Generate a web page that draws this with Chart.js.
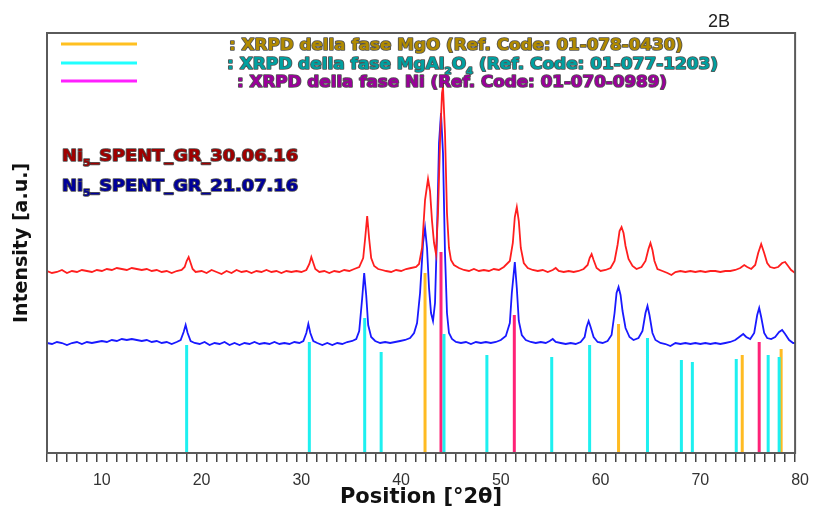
<!DOCTYPE html>
<html>
<head>
<meta charset="utf-8">
<script src="https://cdn.jsdelivr.net/npm/chart.js@4.4.0/dist/chart.umd.min.js"></script>
<style>
html, body { margin: 0; padding: 0; background: #fff; }
#wrap { width: 813px; height: 516px; }
</style>
</head>
<body>
<div id="wrap"><canvas id="xrd"></canvas></div>
<script>
// x tick labels
const xTickLabels = [10, 20, 30, 40, 50, 60, 70, 80];

// Ni5_SPENT_GR_30.06.16 (red)
const redX = [5.0,5.5,6.0,6.5,7.0,7.5,8.0,8.5,9.0,9.5,10.0,10.5,11.0,11.5,12.0,12.5,13.0,13.5,14.0,14.5,15.0,15.5,16.0,16.5,17.0,17.5,18.0,18.5,18.8,19.0,19.2,19.4,19.6,19.9,
  20.5,21.0,21.5,22.0,22.5,23.0,23.5,24.0,24.5,25.0,25.5,26.0,26.5,27.0,27.5,28.0,28.5,29.0,29.5,30.0,30.5,31.0,31.3,31.5,31.7,31.9,32.3,32.8,33.3,33.8,34.3,34.8,35.3,35.8,36.3,36.7,36.9,37.1,37.3,37.5,37.8,38.2,38.6,39.0,39.5,
  40.0,40.5,41.0,41.5,42.0,42.3,42.6,42.9,43.2,43.4,43.6,43.8,44.0,44.2,44.4,44.6,44.7,44.9,45.1,45.3,45.5,45.8,46.3,46.8,47.3,47.8,48.3,48.8,49.3,49.8,
  50.3,50.8,51.4,51.7,51.9,52.1,52.3,52.5,52.8,53.2,53.7,54.2,54.7,55.2,55.7,56.0,56.3,56.8,57.3,57.8,58.3,58.8,59.2,59.4,59.6,59.8,60.1,60.5,
  61.0,61.5,61.9,62.2,62.4,62.6,62.8,63.0,63.3,63.7,64.1,64.6,65.0,65.3,65.5,65.7,65.9,66.2,66.7,67.2,67.6,68.0,68.5,69.0,69.5,
  70.0,70.5,71.0,71.5,72.0,72.5,73.0,73.5,74.0,74.5,74.9,75.2,75.6,76.0,76.3,76.6,76.9,77.2,77.5,77.9,78.3,78.7,79.0,79.3,79.6,80.0];
const redY = [182,180,181,183,180,182,181,183,182,181,183,182,184,183,185,184,183,185,184,183,184,182,183,181,182,180,182,183,186,192,196,190,184,181,
  182,180,183,181,179,182,180,183,181,182,180,182,181,183,181,182,180,182,181,182,181,183,189,196,190,184,181,182,180,182,181,183,182,184,186,195,215,237,214,195,187,184,183,182,181,
  183,182,184,185,186,189,205,253,274,262,232,210,199,240,310,360,366,320,240,205,193,188,185,183,182,184,182,183,182,184,
  183,186,192,210,236,246,232,205,190,185,183,182,183,181,183,185,182,181,182,181,182,184,188,195,199,193,185,182,
  183,185,192,208,222,226,220,207,194,187,184,186,192,204,210,203,192,184,182,180,178,181,182,181,182,
  181,182,181,182,182,181,182,182,183,185,188,186,184,188,200,209,200,190,186,185,186,190,191,187,183,180];

// Ni5_SPENT_GR_21.07.16 (blue)
const blueX = [5.0,5.5,6.0,6.5,7.0,7.5,8.0,8.5,9.0,9.5,10.0,10.5,11.0,11.5,12.0,12.5,13.0,13.5,14.0,14.5,15.0,15.5,16.0,16.5,17.0,17.5,18.0,18.4,18.7,18.9,19.1,19.4,19.8,
  20.3,20.8,21.3,21.8,22.3,22.8,23.3,23.8,24.3,24.8,25.3,25.8,26.3,26.8,27.3,27.8,28.3,28.8,29.3,29.8,30.3,30.7,31.0,31.2,31.4,31.7,32.1,32.6,33.1,33.6,34.1,34.6,35.1,35.6,36.0,36.3,36.6,36.8,37.0,37.2,37.5,37.9,38.4,38.9,39.4,39.9,
  40.4,40.9,41.4,41.8,42.1,42.4,42.7,42.9,43.1,43.3,43.5,43.7,43.9,44.1,44.3,44.5,44.7,44.9,45.1,45.3,45.6,46.0,46.5,47.0,47.5,48.0,48.5,49.0,49.5,
  50.0,50.5,51.0,51.4,51.6,51.9,52.1,52.3,52.6,53.0,53.5,54.0,54.5,55.0,55.4,55.7,56.0,56.5,57.0,57.5,58.0,58.5,58.9,59.1,59.3,59.5,59.8,
  60.2,60.7,61.2,61.6,61.9,62.1,62.3,62.5,62.7,63.0,63.4,63.8,64.3,64.7,65.0,65.2,65.4,65.7,66.0,66.5,67.0,67.5,68.0,68.5,69.0,69.5,
  70.0,70.5,71.0,71.5,72.0,72.5,73.0,73.5,74.0,74.4,74.8,75.1,75.5,75.9,76.2,76.4,76.6,76.9,77.2,77.6,78.0,78.4,78.7,79.0,79.4,79.8,80.0];
const blueY = [110,109,111,110,108,110,111,109,111,110,111,112,111,113,112,114,113,114,113,112,113,111,112,110,111,109,111,113,121,128,120,112,110,
  109,111,108,110,109,111,108,110,108,110,109,111,109,110,109,111,109,110,109,111,110,112,120,129,120,112,110,108,110,108,110,109,111,112,114,122,155,180,158,128,116,112,110,111,110,111,
  112,113,115,120,130,160,210,225,205,165,140,132,150,220,310,340,300,200,140,120,114,111,110,111,109,111,110,111,110,
  111,113,117,130,160,191,165,132,118,113,111,110,111,110,112,114,111,110,109,110,109,111,116,126,132,126,116,
  111,110,112,118,140,160,166,158,142,125,116,113,115,122,140,147,138,120,113,110,109,107,110,109,110,109,
  110,109,110,109,110,109,110,111,113,116,119,116,114,120,138,145,136,120,115,114,116,121,123,119,113,110,110];

// reference patterns (position, relative height)
const mgoPos = [42.9, 62.3, 74.7, 78.6];
const mgoH = [180, 129, 98, 104];
const spinelPos = [19.0, 31.3, 36.85, 38.5, 44.8, 49.1, 55.6, 59.4, 65.2, 68.6, 69.7, 74.1, 77.3, 78.4];
const spinelH = [108, 111, 135, 101, 119, 98, 96, 108, 115, 93, 91, 94, 98, 96];
const niPos = [44.5, 51.85, 76.4];
const niH = [201, 138, 111];

const FONT = '"DejaVu Sans", "Liberation Sans", Arial, sans-serif';

function pts(xs, ys) {
  return xs.map((x, i) => ({ x: x, y: ys[i] }));
}
function sticks(pos, h) {
  const out = [];
  pos.forEach((p, i) => {
    out.push({ x: p, y: 0 }, { x: p, y: h[i] }, { x: p, y: null });
  });
  return out;
}

// text runs [text, isSubscript], stretched to a target width
function drawRuns(ctx, runs, x, y, color, size, width) {
  const fontFor = sub => 'bold ' + (sub ? Math.round(size * 0.62) : size) + 'px ' + FONT;
  let total = 0;
  runs.forEach(r => { ctx.font = fontFor(r[1]); total += ctx.measureText(r[0]).width; });
  ctx.save();
  ctx.translate(x, y);
  ctx.scale(width / total, 1);
  let cx = 0;
  runs.forEach(r => {
    ctx.font = fontFor(r[1]);
    const yy = r[1] ? size * 0.3 : 0;
    ctx.lineWidth = 1.6;
    ctx.lineJoin = 'round';
    ctx.strokeStyle = 'rgba(40,40,40,0.8)';
    ctx.strokeText(r[0], cx, yy);
    ctx.fillStyle = color;
    ctx.fillText(r[0], cx, yy);
    cx += ctx.measureText(r[0]).width;
  });
  ctx.restore();
}

const extras = {
  id: 'extras',
  afterDraw(chart) {
    const ctx = chart.ctx;
    const a = chart.chartArea;
    ctx.save();
    // frame
    ctx.strokeStyle = '#5a5a5a';
    ctx.lineWidth = 2;
    ctx.strokeRect(a.left, a.top, a.right - a.left, a.bottom - a.top);
    // 2B
    ctx.fillStyle = '#222';
    ctx.font = '18px "Liberation Sans", Arial, sans-serif';
    ctx.textBaseline = 'alphabetic';
    ctx.fillText('2B', 708, 27);
    // legend samples
    const samples = [['#ffc020', 44], ['#20ffff', 63], ['#ff20ff', 81]];
    ctx.lineWidth = 3;
    samples.forEach(s => {
      ctx.strokeStyle = s[0];
      ctx.beginPath();
      ctx.moveTo(61, s[1]);
      ctx.lineTo(137, s[1]);
      ctx.stroke();
    });
    drawRuns(ctx, [[': XRPD della fase MgO (Ref. Code: 01-078-0430)', false]], 229, 50, '#b08a00', 15, 454);
    drawRuns(ctx, [[': XRPD della fase MgAl', false], ['2', true], ['O', false], ['4', true], [' (Ref. Code: 01-077-1203)', false]], 227, 69, '#00a0a0', 15, 491);
    drawRuns(ctx, [[': XRPD della fase Ni (Ref. Code: 01-070-0989)', false]], 237, 87, '#9a009a', 15, 430);
    drawRuns(ctx, [['Ni', false], ['5', true], ['_SPENT_GR_30.06.16', false]], 62, 161, '#a00000', 15, 236);
    drawRuns(ctx, [['Ni', false], ['5', true], ['_SPENT_GR_21.07.16', false]], 62, 191, '#00009a', 15, 236);
    ctx.restore();
  }
};

new Chart(document.getElementById('xrd'), {
  type: 'line',
  data: {
    datasets: [
      { label: 'MgAl2O4', data: sticks(spinelPos, spinelH), borderColor: '#1ef0f0', borderWidth: 3, pointRadius: 0, spanGaps: false, borderCapStyle: 'butt', order: 0 },
      { label: 'MgO', data: sticks(mgoPos, mgoH), borderColor: '#ffbb22', borderWidth: 3, pointRadius: 0, spanGaps: false, borderCapStyle: 'butt', order: 0 },
      { label: 'Ni', data: sticks(niPos, niH), borderColor: '#ff2277', borderWidth: 3, pointRadius: 0, spanGaps: false, borderCapStyle: 'butt', order: 0 },
      { label: 'Ni5_SPENT_GR_30.06.16', data: pts(redX, redY), borderColor: 'rgb(255,30,30)', borderWidth: 1.8, pointRadius: 0, tension: 0, order: 1 },
      { label: 'Ni5_SPENT_GR_21.07.16', data: pts(blueX, blueY), borderColor: 'rgb(25,25,255)', borderWidth: 1.8, pointRadius: 0, tension: 0, order: 2 }
    ]
  },
  options: {
    responsive: true,
    maintainAspectRatio: false,
    animation: false,
    devicePixelRatio: 1,
    layout: { padding: { top: 33, right: 16, bottom: 0, left: 0 } },
    plugins: {
      legend: { display: false },
      tooltip: { enabled: false }
    },
    scales: {
      x: {
        type: 'linear',
        min: 5,
        max: 80,
        afterFit: s => { s.height = 63; },
        border: { display: false },
        grid: { display: true, drawOnChartArea: false, drawTicks: true, tickLength: 9, color: '#444', lineWidth: 1.5 },
        ticks: {
          stepSize: 1,
          autoSkip: false,
          maxRotation: 0,
          labelOffset: 5,
          padding: 9,
          color: '#333',
          font: { size: 16, family: '"Liberation Sans", Arial, sans-serif' },
          callback: v => xTickLabels.includes(v) ? String(v) : ''
        },
        title: {
          display: true,
          text: 'Position [°2θ]',
          color: '#111',
          font: { size: 21, weight: 'bold', family: FONT },
          padding: { top: 0, bottom: 6 }
        }
      },
      y: {
        min: 0,
        max: 420,
        afterFit: s => { s.width = 47; },
        border: { display: false },
        grid: { display: false },
        ticks: { display: false },
        title: {
          display: true,
          text: 'Intensity [a.u.]',
          color: '#111',
          font: { size: 19, weight: 'bold', family: FONT },
          padding: { top: 11, bottom: 0 }
        }
      }
    }
  },
  plugins: [extras]
});
</script>
</body>
</html>
